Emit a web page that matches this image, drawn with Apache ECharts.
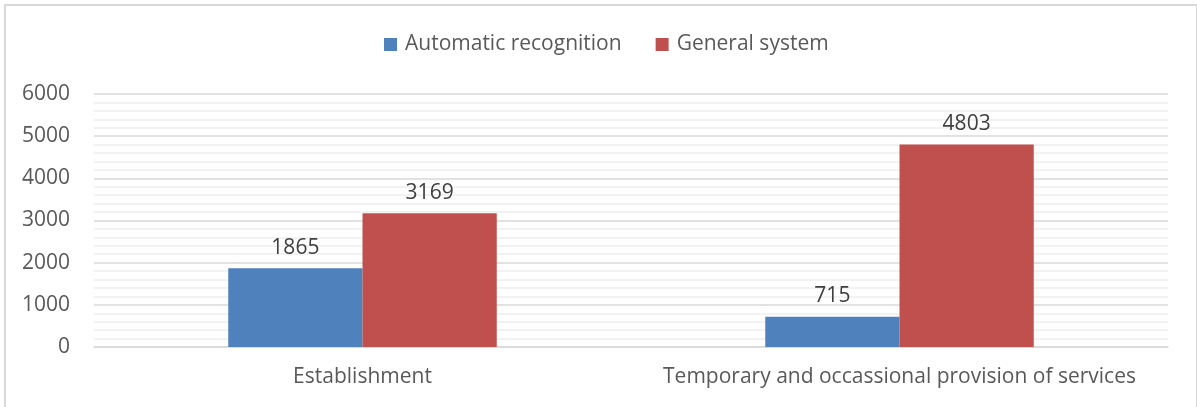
<!DOCTYPE html>
<html>
<head>
<meta charset="utf-8">
<script src="https://cdn.jsdelivr.net/npm/echarts@6/dist/echarts.min.js"></script>
<style>
  html, body { margin: 0; padding: 0; background: #fff; overflow: hidden; }
  #frame {
    position: absolute; left: 4px; top: 4px;
    width: 1190px; height: 420px;
    border: 2px solid #d9d9d9;
  }
  #chart { position: absolute; left: 0; top: 0; width: 1197px; height: 407px; }
</style>
</head>
<body>
<div id="frame"></div>
<div id="chart"></div>
<script>
  const categories = ['Establishment', 'Temporary and occassional provision of services']
  const seriesNames = ['Automatic recognition', 'General system']
  const automaticValues = [1865, 715]
  const generalValues = [3169, 4803]

  const chart = echarts.init(document.getElementById('chart'))
  const font = '"Open Sans", "Noto Sans", sans-serif'

  chart.setOption({
    animation: false,
    textStyle: { fontFamily: font },
    color: ['#4f81bd', '#c0504d'],
    legend: {
      top: 29,
      left: 379,
      itemWidth: 13,
      itemHeight: 13,
      itemGap: 34,
      icon: 'rect',
      textStyle: { color: '#595959', fontSize: 21, fontFamily: font, padding: [0, 0, 0, 3] },
      data: seriesNames
    },
    grid: {
      left: 94,
      right: 29,
      top: 94,
      bottom: 60
    },
    xAxis: {
      type: 'category',
      data: categories,
      axisTick: { show: false },
      axisLine: { lineStyle: { color: '#d9d9d9', width: 1.5 } },
      axisLabel: { color: '#595959', fontSize: 21, margin: 20, interval: 0, fontFamily: font }
    },
    yAxis: {
      type: 'value',
      min: 0,
      max: 6000,
      interval: 1000,
      axisLine: { show: false },
      axisTick: { show: false },
      axisLabel: {
        color: '#595959', fontSize: 21, margin: 24, fontFamily: font,
        formatter: (v) => String(v)
      },
      splitLine: { lineStyle: { color: '#d9d9d9', width: 1.5 } },
      minorTick: { show: false, splitNumber: 5 },
      minorSplitLine: { show: true, lineStyle: { color: '#eeeeee', width: 1.5 } }
    },
    series: [
      {
        name: seriesNames[0],
        type: 'bar',
        data: automaticValues,
        barWidth: '25%',
        barGap: '0%',
        label: { show: true, position: 'top', distance: 10, color: '#404040', fontSize: 21, fontFamily: font }
      },
      {
        name: seriesNames[1],
        type: 'bar',
        data: generalValues,
        barWidth: '25%',
        barGap: '0%',
        label: { show: true, position: 'top', distance: 10, color: '#404040', fontSize: 21, fontFamily: font }
      }
    ]
  })
</script>
</body>
</html>
